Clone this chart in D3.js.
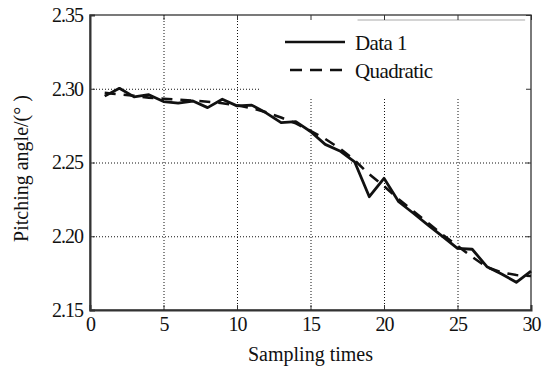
<!DOCTYPE html>
<html>
<head>
<meta charset="utf-8">
<script src="https://cdn.jsdelivr.net/npm/d3@7"></script>
<style>
  body { margin: 0; background: #fff; }
  svg { display: block; }
  svg text { font-family: "Liberation Serif", "Times New Roman", serif; }
</style>
</head>
<body>
<div id="wrapper"></div>
<script>
// sampling index 1..30
let samples = [1, 2, 3, 4, 5, 6, 7, 8, 9, 10, 11, 12, 13, 14, 15,
    16, 17, 18, 19, 20, 21, 22, 23, 24, 25, 26, 27, 28, 29, 30]

// measured pitching angle (Data 1)
let data1 = [2.2950, 2.3003, 2.2945, 2.2960, 2.2913, 2.2902, 2.2917, 2.2872, 2.2929, 2.2884,
    2.2889, 2.2835, 2.2770, 2.2777, 2.2710, 2.2623, 2.2578, 2.2505, 2.2268, 2.2393,
    2.2234, 2.2156, 2.2076, 2.1997, 2.1918, 2.1912, 2.1794, 2.1744, 2.1688, 2.1764]

// quadratic fit curve
let quadratic = [2.2972, 2.2962, 2.2952, 2.2940, 2.2932, 2.2926, 2.2920, 2.2912, 2.2902, 2.2888,
    2.2868, 2.2840, 2.2805, 2.2765, 2.2715, 2.2660, 2.2595, 2.2515, 2.2420, 2.2340,
    2.2250, 2.2170, 2.2090, 2.2010, 2.1935, 2.1860, 2.1790, 2.1755, 2.1737, 2.1730]

let xTicks = [0, 5, 10, 15, 20, 25, 30]
let yTicks = [2.15, 2.20, 2.25, 2.30, 2.35]
let legendLabels = ["Data 1", "Quadratic"]

let dimensions = {
    width: 553,
    height: 368,
    margin: { top: 15, right: 22, bottom: 58, left: 90 }
}
let w = dimensions.width - dimensions.margin.left - dimensions.margin.right
let h = dimensions.height - dimensions.margin.top - dimensions.margin.bottom

let svg = d3.select("#wrapper")
    .append("svg")
    .attr("width", dimensions.width)
    .attr("height", dimensions.height)

let g = svg.append("g")
    .attr("transform", `translate(${dimensions.margin.left},${dimensions.margin.top})`)

let x = d3.scaleLinear().domain([0, 30]).range([0, w])
let y = d3.scaleLinear().domain([2.15, 2.35]).range([h, 0])

// dotted grid
g.append("g")
    .attr("class", "grid")
    .attr("transform", `translate(0,${h})`)
    .call(d3.axisBottom(x).tickValues(xTicks.slice(1, -1)).tickSize(-h).tickFormat(""))
g.append("g")
    .attr("class", "grid")
    .call(d3.axisLeft(y).tickValues(yTicks.slice(1, -1)).tickSize(-w).tickFormat(""))
g.selectAll(".grid .domain").remove()
g.selectAll(".grid line")
    .attr("stroke", "#111")
    .attr("stroke-width", 1)
    .attr("stroke-dasharray", "1,2")

// legend box hides the grid behind it
let lgX = x(11.6), lgY = 0
g.append("rect")
    .attr("x", lgX)
    .attr("y", lgY)
    .attr("width", w - lgX)
    .attr("height", 82)
    .attr("fill", "#fff")
g.append("line")
    .attr("x1", x(18.2)).attr("x2", x(29.6))
    .attr("y1", 5).attr("y2", 5)
    .attr("stroke", "#aaa")
    .attr("stroke-width", 1.2)

// frame
g.append("rect")
    .attr("width", w)
    .attr("height", h)
    .attr("fill", "none")
    .attr("stroke", "#333")
    .attr("stroke-width", 1.3)

// axes, ticks pointing inwards
let serif = "'Liberation Serif', 'Times New Roman', serif"
let tickFont = a => a.attr("font-family", serif)
    .selectAll("text")
    .attr("font-family", serif)
    .attr("font-size", 20)
    .attr("letter-spacing", "-1px")
    .attr("fill", "#111")

g.append("g")
    .attr("transform", `translate(0,${h})`)
    .call(d3.axisBottom(x).tickValues(xTicks).tickSize(-5).tickPadding(7).tickFormat(d3.format("d")))
    .call(tickFont)
    .call(a => a.select(".domain").attr("stroke", "#333").attr("stroke-width", 2))

g.append("g")
    .call(d3.axisLeft(y).tickValues(yTicks).tickSize(-5).tickPadding(7).tickFormat(d3.format(".2f")))
    .call(tickFont)
    .call(a => a.select(".domain").attr("stroke", "#333").attr("stroke-width", 2))

g.append("g")
    .call(d3.axisTop(x).tickValues(xTicks).tickSize(-5).tickFormat(""))
    .call(a => a.select(".domain").remove())
g.append("g")
    .attr("transform", `translate(${w},0)`)
    .call(d3.axisRight(y).tickValues(yTicks).tickSize(-5).tickFormat(""))
    .call(a => a.select(".domain").remove())
g.selectAll(".tick line").filter(function() { return !this.closest(".grid") })
    .attr("stroke", "#333")

// series
let line = vals => d3.line()
    .x((d, i) => x(samples[i]))
    .y(d => y(d))(vals)

g.append("path")
    .attr("d", line(quadratic))
    .attr("fill", "none")
    .attr("stroke", "#111")
    .attr("stroke-width", 2.6)
    .attr("stroke-dasharray", "11,8")

g.append("path")
    .attr("d", line(data1))
    .attr("fill", "none")
    .attr("stroke", "#111")
    .attr("stroke-width", 2.8)
    .attr("stroke-linejoin", "round")

// legend
let legend = g.append("g")
legend.selectAll("line")
    .data(legendLabels)
    .enter()
    .append("line")
    .attr("x1", (d, i) => i == 0 ? 195 : 200)
    .attr("x2", 255)
    .attr("y1", (d, i) => 27 + i * 28)
    .attr("y2", (d, i) => 27 + i * 28)
    .attr("stroke", "#111")
    .attr("stroke-width", 2.6)
    .attr("stroke-dasharray", (d, i) => i == 0 ? null : "12,8")
legend.selectAll("text")
    .data(legendLabels)
    .enter()
    .append("text")
    .attr("x", 265)
    .attr("y", (d, i) => 35 + i * 28)
    .attr("font-size", 21)
    .attr("letter-spacing", "-0.6px")
    .attr("fill", "#111")
    .text(d => d)

// axis titles
svg.append("text")
    .attr("x", dimensions.margin.left + w / 2)
    .attr("y", 361)
    .attr("text-anchor", "middle")
    .attr("font-size", 20)
    .attr("fill", "#111")
    .text("Sampling times")

svg.append("text")
    .attr("transform", `translate(28,${dimensions.margin.top + h / 2 + 6}) rotate(-90)`)
    .attr("text-anchor", "middle")
    .attr("font-size", 20)
    .attr("fill", "#111")
    .text("Pitching angle/(° )")
</script>
</body>
</html>
